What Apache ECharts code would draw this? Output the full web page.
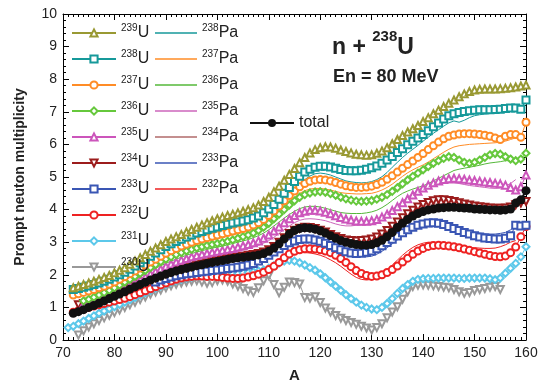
<!DOCTYPE html>
<html><head><meta charset="utf-8">
<script src="https://cdn.jsdelivr.net/npm/echarts@6/dist/echarts.min.js"></script>
<style>html,body{margin:0;padding:0;background:#fff}#c{width:539px;height:380px}</style>
</head><body><div id="c"></div>
<script>
// mass number A = 71 ... 160
const A = [];
for (let a = 71; a <= 160; a++) A.push(a);
const _ = null;

const total = [
_,0.82,0.87,0.93,1.0,1.06,1.13,1.2,1.27,1.34,
1.41,1.48,1.56,1.63,1.7,1.77,1.84,1.9,1.96,2.02,
2.07,2.12,2.16,2.2,2.24,2.28,2.31,2.35,2.38,2.41,
2.44,2.47,2.5,2.52,2.54,2.56,2.58,2.61,2.65,2.72,
2.82,2.95,3.1,3.25,3.36,3.42,3.44,3.43,3.4,3.35,
3.28,3.2,3.12,3.05,3.0,2.96,2.93,2.91,2.91,2.93,
2.98,3.06,3.17,3.3,3.45,3.58,3.7,3.8,3.88,3.94,
3.99,4.02,4.05,4.06,4.07,4.07,4.06,4.05,4.04,4.02,
4.01,4.0,3.99,3.99,3.98,3.99,4.02,4.2,4.3,4.58];

const u239 = [
_,1.6,1.65,1.7,1.75,1.8,1.86,1.92,1.98,2.06,
2.14,2.22,2.32,2.42,2.52,2.62,2.72,2.82,2.92,3.02,
3.1,3.17,3.24,3.31,3.39,3.46,3.53,3.6,3.66,3.72,
3.77,3.82,3.86,3.9,3.95,4.0,4.06,4.14,4.25,4.38,
4.55,4.72,4.9,5.08,5.26,5.44,5.6,5.74,5.84,5.9,
5.93,5.92,5.88,5.83,5.78,5.74,5.7,5.68,5.67,5.68,
5.73,5.8,5.9,6.02,6.15,6.27,6.38,6.48,6.58,6.7,
6.82,6.94,7.05,7.16,7.26,7.36,7.46,7.55,7.62,7.67,
7.69,7.7,7.7,7.7,7.71,7.72,7.74,7.76,7.79,7.82];

const u238 = [
_,1.55,1.58,1.62,1.66,1.7,1.75,1.8,1.86,1.93,
2.0,2.08,2.17,2.27,2.37,2.47,2.57,2.67,2.77,2.87,
2.95,3.02,3.09,3.16,3.22,3.28,3.33,3.38,3.43,3.47,
3.51,3.55,3.59,3.62,3.65,3.69,3.74,3.8,3.9,4.02,
4.16,4.32,4.5,4.68,4.86,5.02,5.15,5.24,5.3,5.33,
5.33,5.31,5.27,5.23,5.2,5.19,5.19,5.21,5.24,5.28,
5.34,5.42,5.52,5.63,5.75,5.87,5.99,6.1,6.2,6.3,
6.42,6.54,6.66,6.78,6.88,6.94,6.98,7.01,7.03,7.05,
7.06,7.06,7.06,7.07,7.08,7.1,7.12,7.12,7.08,7.36];

const u237 = [
_,1.38,1.42,1.46,1.5,1.55,1.6,1.65,1.71,1.78,
1.86,1.94,2.03,2.12,2.21,2.3,2.39,2.48,2.57,2.66,
2.74,2.81,2.88,2.94,3.0,3.05,3.1,3.14,3.18,3.22,
3.26,3.3,3.34,3.38,3.42,3.47,3.53,3.6,3.7,3.82,
3.96,4.11,4.27,4.43,4.57,4.7,4.8,4.87,4.91,4.92,
4.91,4.88,4.83,4.78,4.73,4.7,4.68,4.68,4.69,4.72,
4.77,4.84,4.93,5.04,5.15,5.27,5.38,5.49,5.6,5.72,
5.84,5.96,6.07,6.17,6.25,6.29,6.32,6.33,6.33,6.32,
6.3,6.28,6.25,6.2,6.15,6.25,6.3,6.3,6.22,6.68];

const u236 = [
_,_,_,1.2,1.25,1.31,1.38,1.45,1.52,1.6,
1.68,1.77,1.86,1.95,2.04,2.13,2.22,2.31,2.4,2.48,
2.55,2.62,2.68,2.73,2.78,2.82,2.86,2.9,2.93,2.96,
2.99,3.03,3.07,3.12,3.17,3.22,3.28,3.36,3.46,3.58,
3.72,3.86,4.0,4.14,4.27,4.38,4.46,4.51,4.54,4.55,
4.53,4.49,4.44,4.38,4.33,4.29,4.26,4.25,4.26,4.28,
4.32,4.38,4.46,4.56,4.67,4.79,4.91,5.02,5.12,5.22,
5.32,5.42,5.5,5.57,5.62,5.6,5.52,5.45,5.42,5.45,
5.52,5.6,5.68,5.72,5.7,5.62,5.55,5.5,5.55,5.73];

const u235 = [
_,_,_,1.1,1.13,1.17,1.22,1.28,1.35,1.42,
1.5,1.58,1.66,1.75,1.84,1.93,2.02,2.1,2.18,2.26,
2.33,2.39,2.45,2.5,2.55,2.59,2.63,2.66,2.69,2.72,
2.75,2.78,2.81,2.85,2.89,2.93,2.98,3.04,3.12,3.22,
3.34,3.47,3.6,3.72,3.82,3.9,3.95,3.98,3.98,3.96,
3.92,3.87,3.81,3.76,3.71,3.68,3.65,3.64,3.64,3.66,
3.7,3.77,3.86,3.97,4.09,4.21,4.33,4.45,4.56,4.66,
4.75,4.82,4.88,4.92,4.95,4.96,4.95,4.93,4.91,4.89,
4.87,4.85,4.83,4.81,4.79,4.75,4.68,4.6,4.7,5.06];

const u234 = [
_,_,1.08,1.12,1.16,1.2,1.25,1.3,1.35,1.4,
1.46,1.52,1.58,1.65,1.72,1.79,1.86,1.92,1.98,2.04,
2.09,2.14,2.18,2.22,2.26,2.3,2.34,2.37,2.41,2.44,
2.47,2.5,2.53,2.55,2.57,2.6,2.62,2.65,2.7,2.77,
2.87,3.0,3.14,3.27,3.37,3.43,3.46,3.45,3.42,3.37,
3.31,3.24,3.17,3.11,3.07,3.05,3.04,3.05,3.07,3.1,
3.16,3.25,3.36,3.49,3.62,3.75,3.87,3.98,4.08,4.16,
4.22,4.27,4.3,4.3,4.28,4.25,4.21,4.17,4.14,4.11,
4.09,4.07,4.05,4.04,4.04,4.05,4.08,4.15,4.2,4.25];

const u233 = [
_,_,_,_,_,_,_,_,_,_,
_,_,_,_,_,_,_,1.78,1.84,1.89,
1.93,1.97,2.0,2.03,2.05,2.07,2.09,2.11,2.13,2.15,
2.17,2.19,2.21,2.23,2.26,2.3,2.35,2.42,2.5,2.6,
2.7,2.8,2.9,2.98,3.04,3.08,3.1,3.1,3.07,3.03,
2.97,2.9,2.83,2.77,2.71,2.67,2.65,2.66,2.69,2.73,
2.8,2.89,2.99,3.09,3.19,3.29,3.38,3.46,3.52,3.56,
3.59,3.6,3.58,3.54,3.48,3.42,3.36,3.3,3.25,3.2,
3.16,3.13,3.11,3.1,3.1,3.12,3.2,3.52,3.5,3.52];

const u232 = [
_,0.85,0.9,0.95,1.0,1.04,1.08,1.12,1.16,1.2,
1.24,1.28,1.33,1.39,1.45,1.51,1.57,1.63,1.69,1.75,
1.81,1.86,1.9,1.93,1.95,1.96,1.96,1.95,1.95,1.94,
1.92,1.9,1.89,1.89,1.9,1.93,1.97,2.02,2.08,2.16,
2.26,2.38,2.52,2.64,2.72,2.77,2.8,2.8,2.79,2.77,
2.73,2.68,2.6,2.5,2.38,2.25,2.13,2.04,1.98,1.95,
1.96,2.0,2.07,2.16,2.27,2.39,2.51,2.63,2.73,2.81,
2.87,2.9,2.91,2.9,2.88,2.86,2.83,2.79,2.75,2.71,
2.67,2.63,2.59,2.56,2.55,2.58,2.68,2.85,3.17,3.48];

const u231 = [
0.38,0.42,0.5,0.58,0.66,0.74,0.82,0.89,0.96,1.02,
1.09,1.16,1.23,1.3,1.38,1.45,1.52,1.59,1.65,1.71,
1.77,1.82,1.86,1.9,1.93,1.96,1.98,2.0,2.02,2.03,
2.04,2.05,2.05,2.05,2.06,2.07,2.09,2.12,2.15,2.2,
2.28,2.36,2.42,2.44,2.42,2.37,2.3,2.22,2.14,2.03,
1.91,1.78,1.65,1.52,1.39,1.27,1.16,1.07,1.0,0.95,
0.93,1.0,1.12,1.27,1.43,1.58,1.7,1.8,1.86,1.88,
1.89,1.89,1.9,1.9,1.9,1.9,1.89,1.89,1.9,1.9,
1.9,1.9,1.88,1.85,1.9,2.05,2.2,2.35,2.55,2.86];

const u230 = [
_,_,0.15,0.28,0.4,0.5,0.6,0.68,0.76,0.84,
0.92,1.0,1.08,1.16,1.24,1.32,1.4,1.47,1.53,1.6,
1.66,1.71,1.75,1.78,1.8,1.82,1.78,1.74,1.76,1.82,
1.84,1.8,1.72,1.65,1.58,1.5,1.46,1.6,1.82,1.98,
1.7,1.45,1.62,1.78,1.76,1.72,1.3,1.28,1.33,1.15,
0.98,0.86,0.75,0.67,0.6,0.54,0.48,0.42,0.37,0.31,
0.38,0.5,0.68,0.86,1.02,1.25,1.48,1.64,1.68,1.69,
1.68,1.66,1.64,1.62,1.6,1.55,1.48,1.43,1.46,1.52,
1.55,1.58,1.62,1.64,1.55,_,_,_,_,_];

const pa238 = [
_,_,_,_,_,1.5,1.58,1.66,1.75,1.84,
1.93,2.02,2.11,2.2,2.29,2.38,2.47,2.56,2.65,2.74,
2.82,2.89,2.96,3.02,3.08,3.13,3.18,3.22,3.26,3.3,
3.34,3.38,3.42,3.46,3.5,3.54,3.6,3.67,3.75,3.85,
3.97,4.1,4.26,4.43,4.6,4.77,4.92,5.03,5.1,5.12,
5.1,5.06,5.0,4.94,4.88,4.85,4.83,4.82,4.83,4.86,
4.92,5.01,5.14,5.3,5.45,5.6,5.73,5.85,5.97,6.1,
6.22,6.34,6.45,6.56,6.66,6.72,6.68,6.74,6.82,6.88,
6.91,6.93,6.95,6.96,6.98,7.0,7.02,7.05,_,_];

const pa237 = [
_,_,_,_,_,1.4,1.46,1.53,1.6,1.68,
1.77,1.86,1.95,2.04,2.13,2.22,2.31,2.4,2.49,2.57,
2.65,2.72,2.78,2.84,2.89,2.94,2.98,3.02,3.06,3.1,
3.14,3.18,3.22,3.26,3.3,3.34,3.4,3.47,3.56,3.66,
3.78,3.92,4.07,4.22,4.37,4.5,4.58,4.63,4.65,4.65,
4.63,4.6,4.56,4.52,4.5,4.49,4.48,4.48,4.49,4.5,
4.54,4.6,4.68,4.78,4.9,5.02,5.13,5.22,5.3,5.37,
5.46,5.56,5.66,5.76,5.85,5.92,5.96,5.98,6.0,6.01,
6.02,6.03,6.04,6.05,6.07,6.1,6.15,6.2,_,_];

const pa236 = [
_,_,_,_,_,_,1.3,1.36,1.43,1.5,
1.58,1.67,1.76,1.85,1.94,2.03,2.12,2.2,2.28,2.35,
2.42,2.48,2.54,2.6,2.65,2.7,2.74,2.78,2.82,2.85,
2.88,2.92,2.96,3.0,3.04,3.08,3.14,3.2,3.28,3.38,
3.5,3.62,3.74,3.85,3.95,4.03,4.08,4.1,4.1,4.08,
4.04,4.0,3.95,3.91,3.89,3.88,3.88,3.88,3.9,3.93,
3.98,4.06,4.16,4.28,4.4,4.5,4.57,4.63,4.68,4.73,
4.8,4.88,4.96,5.04,5.12,5.2,5.24,5.27,5.3,5.33,
5.36,5.4,5.43,5.45,5.47,5.5,5.5,5.5,_,_];

const pa235 = [
_,_,_,_,_,_,1.15,1.2,1.27,1.34,
1.42,1.5,1.58,1.66,1.74,1.82,1.9,1.98,2.06,2.14,
2.21,2.27,2.33,2.38,2.43,2.47,2.51,2.54,2.57,2.6,
2.63,2.66,2.69,2.72,2.76,2.8,2.85,2.9,2.97,3.05,
3.15,3.27,3.39,3.5,3.6,3.67,3.71,3.72,3.71,3.69,
3.66,3.61,3.56,3.52,3.5,3.5,3.52,3.55,3.58,3.62,
3.68,3.77,3.88,4.0,4.13,4.26,4.38,4.49,4.58,4.65,
4.7,4.74,4.77,4.8,4.82,4.82,4.8,4.77,4.74,4.72,
4.7,4.68,4.66,4.65,4.66,4.72,4.8,4.92,_,_];

const pa234 = [
_,_,_,_,_,1.18,1.23,1.28,1.33,1.38,
1.44,1.5,1.57,1.64,1.71,1.78,1.85,1.91,1.97,2.03,
2.08,2.13,2.18,2.22,2.26,2.3,2.34,2.37,2.41,2.44,
2.47,2.5,2.53,2.56,2.58,2.6,2.63,2.66,2.71,2.79,
2.9,3.03,3.17,3.3,3.39,3.45,3.47,3.46,3.43,3.38,
3.32,3.25,3.18,3.12,3.08,3.05,3.03,3.03,3.05,3.08,
3.13,3.21,3.31,3.43,3.56,3.69,3.81,3.92,4.01,4.08,
4.13,4.16,4.18,4.19,4.19,4.18,4.16,4.14,4.12,4.1,
4.09,4.08,4.08,4.09,4.1,4.12,4.15,4.25,_,_];

const pa233 = [
_,_,_,1.05,1.08,1.12,1.16,1.21,1.26,1.32,
1.38,1.44,1.5,1.56,1.62,1.68,1.74,1.8,1.85,1.89,
1.93,1.96,1.99,2.02,2.05,2.08,2.11,2.14,2.17,2.19,
2.2,2.2,2.19,2.2,2.24,2.3,2.38,2.48,2.6,2.72,
2.84,2.95,3.04,3.1,3.14,3.16,3.16,3.15,3.12,3.08,
3.03,2.97,2.91,2.84,2.76,2.68,2.61,2.57,2.55,2.57,
2.63,2.72,2.83,2.95,3.07,3.18,3.28,3.36,3.42,3.47,
3.5,3.52,3.53,3.52,3.5,3.47,3.43,3.39,3.35,3.31,
3.28,3.26,3.25,3.25,3.27,3.3,3.38,3.5,_,_];

const pa232 = [
_,_,_,_,_,0.95,0.98,1.02,1.06,1.1,
1.15,1.2,1.25,1.3,1.36,1.42,1.48,1.55,1.6,1.65,
1.69,1.73,1.76,1.79,1.81,1.83,1.84,1.85,1.85,1.85,
1.84,1.82,1.8,1.8,1.82,1.86,1.92,2.0,2.1,2.22,
2.36,2.48,2.58,2.64,2.67,2.68,2.68,2.67,2.64,2.6,
2.54,2.46,2.37,2.26,2.14,2.02,1.92,1.86,1.84,1.86,
1.92,2.02,2.15,2.3,2.45,2.6,2.73,2.84,2.92,2.97,
3.0,3.0,2.98,2.95,2.91,2.88,2.86,2.85,2.84,2.83,
2.82,2.81,2.81,2.82,2.86,2.92,3.0,3.05,_,_];

const xTicks = [70,80,90,100,110,120,130,140,150,160];
const yTicks = [0,1,2,3,4,5,6,7,8,9,10];

const uNames = ['239U','238U','237U','236U','235U','234U','233U','232U','231U','230U'];
const paNames = ['238Pa','237Pa','236Pa','235Pa','234Pa','233Pa','232Pa'];

const FONT = 'Liberation Sans, Arial, Helvetica, sans-serif';
function pairs(arr){ const out=[]; for(let i=0;i<A.length;i++){ if(arr[i]!=null) out.push([A[i],arr[i]]);} return out; }

const uSpec = [
  ['239U', u239, '#999933', 'emptyTriangle', 0],
  ['238U', u238, '#16999a', 'emptyRect', 0],
  ['237U', u237, '#ff8c26', 'emptyCircle', 0],
  ['236U', u236, '#66c83c', 'emptyDiamond', 0],
  ['235U', u235, '#cc55bb', 'emptyTriangle', 0],
  ['234U', u234, '#9c1c1c', 'emptyTriangle', 180],
  ['233U', u233, '#3a56b4', 'emptyRect', 0],
  ['232U', u232, '#ee2222', 'emptyCircle', 0],
  ['231U', u231, '#5cc8ea', 'emptyDiamond', 0],
  ['230U', u230, '#999999', 'emptyTriangle', 180]
];
const paSpec = [
  ['238Pa', pa238, '#16999a'],
  ['237Pa', pa237, '#ff8c26'],
  ['236Pa', pa236, '#55b83a'],
  ['235Pa', pa235, '#cc66bb'],
  ['234Pa', pa234, '#b06a6a'],
  ['233Pa', pa233, '#3a56b4'],
  ['232Pa', pa232, '#ee2222']
];

const series = [];
paSpec.forEach(s => series.push({
  name: s[0], type: 'line', data: pairs(s[1]), showSymbol: false, symbol: 'none',
  lineStyle: { color: s[2], width: 1 }, itemStyle: { color: s[2] }, z: 2, animation: false
}));
uSpec.slice().reverse().forEach(s => series.push({
  name: s[0], type: 'line', data: pairs(s[1]), symbol: s[3], symbolSize: 7, symbolRotate: s[4],
  lineStyle: { color: s[2], width: 1 }, itemStyle: { color: s[2], borderWidth: 1 }, z: 3, animation: false
}));
series.push({
  name: 'total', type: 'line', data: pairs(total), symbol: 'circle', symbolSize: 9,
  lineStyle: { color: '#111', width: 2 }, itemStyle: { color: '#111' }, z: 5, animation: false
});

function fmt(name){ const m = name.match(/^(\d+)(.*)$/); return m ? '{s|' + m[1] + '}{m|' + m[2] + '}' : '{m|' + name + '}'; }
const legText = { fontFamily: FONT, color: '#222', rich: {
  s: { fontSize: 10, fontFamily: FONT, color: '#222', verticalAlign: 'top', lineHeight: 12, padding: [0,0,8,0] },
  m: { fontSize: 16, fontFamily: FONT, color: '#222', lineHeight: 20 }
}};

const axisCommon = {
  type: 'value', axisLine: { show: true, onZero: false, lineStyle: { color: '#000', width: 1 } },
  axisTick: { show: true, inside: true, length: 6, lineStyle: { color: '#000' } },
  minorTick: { show: true, length: 3, lineStyle: { color: '#000' } },
  splitLine: { show: false }
};

const option = {
  backgroundColor: '#fff',
  animation: false,
  grid: { left: 63, right: 13, top: 14, bottom: 40, containLabel: false, outerBoundsMode: 'none' },
  title: [
    { text: '{a|n + }{s|238}{a|U}', left: 327, top: 24, textStyle: { rich: {
      a: { fontSize: 23, fontWeight: 'bold', fontFamily: FONT, color: '#222', lineHeight: 30, verticalAlign: 'bottom' },
      s: { fontSize: 15, fontWeight: 'bold', fontFamily: FONT, color: '#222', lineHeight: 14, verticalAlign: 'top' } } } },
    { text: 'En = 80 MeV', left: 328, top: 63, textStyle: { fontSize: 18, fontWeight: 'bold', fontFamily: FONT, color: '#222' } }
  ],
  legend: [
    { data: uNames, orient: 'vertical', left: 66, top: 18, itemWidth: 44, itemHeight: 9, itemGap: 8,
      selectedMode: false, formatter: fmt, textStyle: legText },
    { data: paNames.map(n => ({ name: n, icon: 'rect' })), orient: 'vertical', left: 150, top: 18,
      itemWidth: 42, itemHeight: 1.5, itemGap: 8,
      selectedMode: false, formatter: fmt, textStyle: legText },
    { data: ['total'], orient: 'vertical', left: 244, top: 110, itemWidth: 44, itemHeight: 10,
      selectedMode: false, textStyle: { fontSize: 16, fontFamily: FONT, color: '#222' } }
  ],
  xAxis: [
    Object.assign({}, axisCommon, { min: xTicks[0], max: xTicks[xTicks.length-1], interval: 10, position: 'bottom',
      minorTick: { show: true, splitNumber: 10, length: 3, lineStyle: { color: '#000' } },
      axisLabel: { fontSize: 14, fontFamily: FONT, color: '#222', margin: 6 },
      name: 'A', nameLocation: 'middle', nameGap: 28,
      nameTextStyle: { fontSize: 15, fontWeight: 'bold', fontFamily: FONT, color: '#222' } }),
    Object.assign({}, axisCommon, { min: xTicks[0], max: xTicks[xTicks.length-1], interval: 10, position: 'top',
      minorTick: { show: true, splitNumber: 10, length: 3, lineStyle: { color: '#000' } },
      axisLabel: { show: false } })
  ],
  yAxis: [
    Object.assign({}, axisCommon, { min: yTicks[0], max: yTicks[yTicks.length-1], interval: 1, position: 'left',
      minorTick: { show: true, splitNumber: 5, length: 3, lineStyle: { color: '#000' } },
      axisLabel: { fontSize: 14, fontFamily: FONT, color: '#222', margin: 6 },
      name: 'Prompt neuton multiplicity', nameLocation: 'middle', nameGap: 36,
      nameTextStyle: { fontSize: 14, fontWeight: 'bold', fontFamily: FONT, color: '#222' } }),
    Object.assign({}, axisCommon, { min: yTicks[0], max: yTicks[yTicks.length-1], interval: 1, position: 'right',
      minorTick: { show: true, splitNumber: 5, length: 3, lineStyle: { color: '#000' } },
      axisLabel: { show: false } })
  ],
  series: series
};

const chart = echarts.init(document.getElementById('c'), null, { renderer: 'canvas' });
chart.setOption(option);
</script>
</body></html>
